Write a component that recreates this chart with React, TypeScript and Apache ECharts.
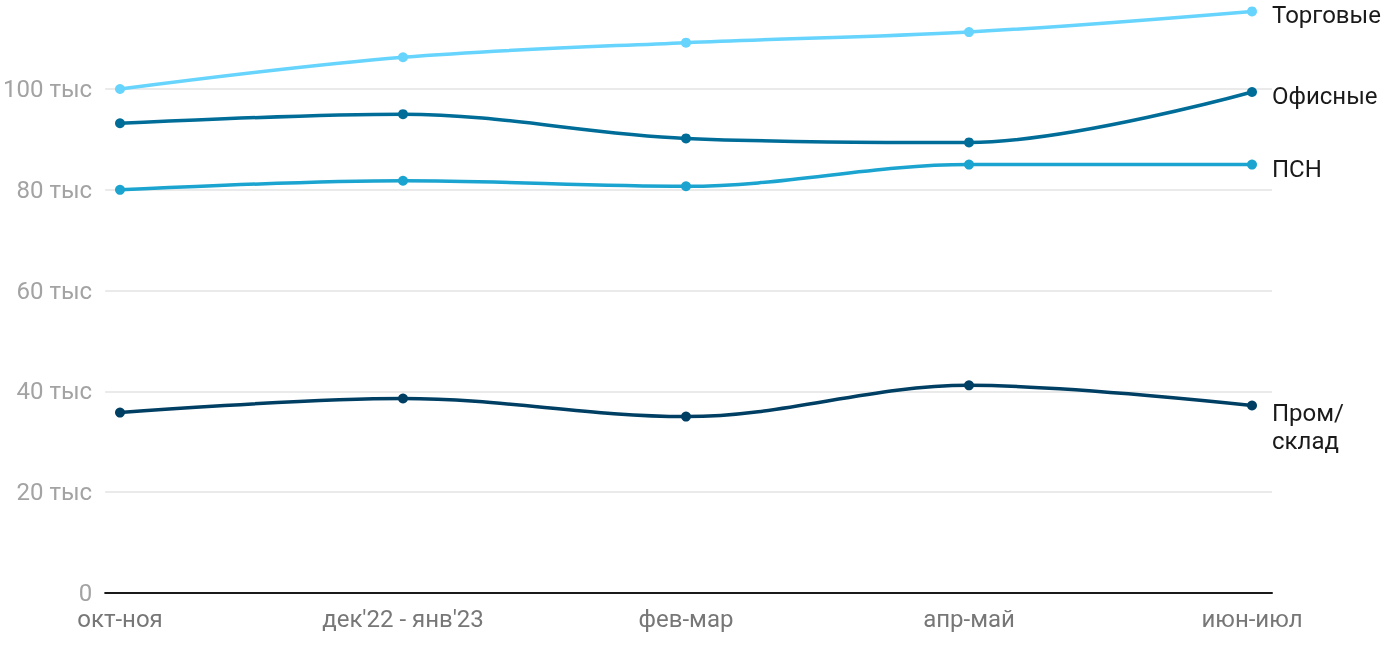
import React, { useEffect, useRef } from "react";
import * as echarts from "echarts";

const categories = ["окт-ноя", "дек'22 - янв'23", "фев-мар", "апр-май", "июн-июл"];
const yTicks = [0, 20, 40, 60, 80, 100];
const torgovye = [100.0, 106.3, 109.2, 111.3, 115.4];
const ofisnye = [93.2, 95.0, 90.2, 89.4, 99.4];
const psn = [80.0, 81.8, 80.7, 85.0, 85.0];
const promSklad = [35.8, 38.6, 35.0, 41.2, 37.2];

const seriesNames = ["Торговые", "Офисные", "ПСН", "Пром/\nсклад"];
const seriesColors = ["#66d4fd", "#006d98", "#1aa4cf", "#003f64"];
const seriesData = [torgovye, ofisnye, psn, promSklad];

const FONT = "Roboto, 'Noto Sans', sans-serif";

export default function App() {
  const ref = useRef<HTMLDivElement>(null);
  useEffect(() => {
    if (!ref.current) return;
    const chart = echarts.init(ref.current, null, { renderer: "svg" });
    const top = 89;
    const bottom = 57;
    chart.setOption({
      animation: false,
      textStyle: { fontFamily: FONT },
      grid: [
        { left: 100, right: 128, top, bottom, containLabel: false },
        { left: 120, right: 148, top, bottom, containLabel: false },
      ],
      xAxis: [
        {
          gridIndex: 0,
          type: "value",
          min: 0,
          max: 1,
          axisLine: { show: true, onZero: false, lineStyle: { color: "#1a1a1a", width: 2 } },
          axisTick: { show: false },
          axisLabel: { show: false },
          splitLine: { show: false },
        },
        {
          gridIndex: 1,
          type: "category",
          data: categories,
          boundaryGap: false,
          axisLine: { show: false },
          axisTick: { show: false },
          splitLine: { show: false },
          axisLabel: {
            color: "#777777",
            fontSize: 24,
            fontFamily: FONT,
            margin: 14,
            interval: 0,
          },
        },
      ],
      yAxis: [
        {
          gridIndex: 0,
          type: "value",
          min: 0,
          max: yTicks[yTicks.length - 1],
          interval: 20,
          axisLine: { show: false },
          axisTick: { show: false },
          axisLabel: {
            color: "#a3a3a3",
            fontSize: 24,
            fontFamily: FONT,
            margin: 13,
            formatter: (v: number) => (v === 0 ? "0" : `${v} тыс`),
          },
          splitLine: { show: true, lineStyle: { color: "#e3e3e3", width: 1.5 } },
        },
        {
          gridIndex: 1,
          type: "value",
          min: 0,
          max: yTicks[yTicks.length - 1],
          show: false,
          splitLine: { show: false },
        },
      ],
      series: seriesData.map((d, i) => {
        const multi = seriesNames[i].includes("\n");
        return {
          name: seriesNames[i],
          type: "line",
          xAxisIndex: 1,
          yAxisIndex: 1,
          data: d,
          smooth: 0.35,
          clip: false,
          symbol: "circle",
          symbolSize: 10,
          showSymbol: true,
          color: seriesColors[i],
          lineStyle: { color: seriesColors[i], width: 3.5 },
          itemStyle: { color: seriesColors[i] },
          z: 10 - i,
          endLabel: {
            show: true,
            formatter: "{a}",
            color: "#1a1a1a",
            fontSize: 24,
            fontFamily: FONT,
            distance: 20,
            lineHeight: 28,
            verticalAlign: multi ? "top" : "middle",
            offset: multi ? [0, -7] : [0, 4],
          },
        };
      }),
    });
    return () => chart.dispose();
  }, []);
  return (
    <div
      ref={ref}
      style={{ position: "fixed", left: 0, top: 0, width: 1400, height: 650 }}
    />
  );
}
